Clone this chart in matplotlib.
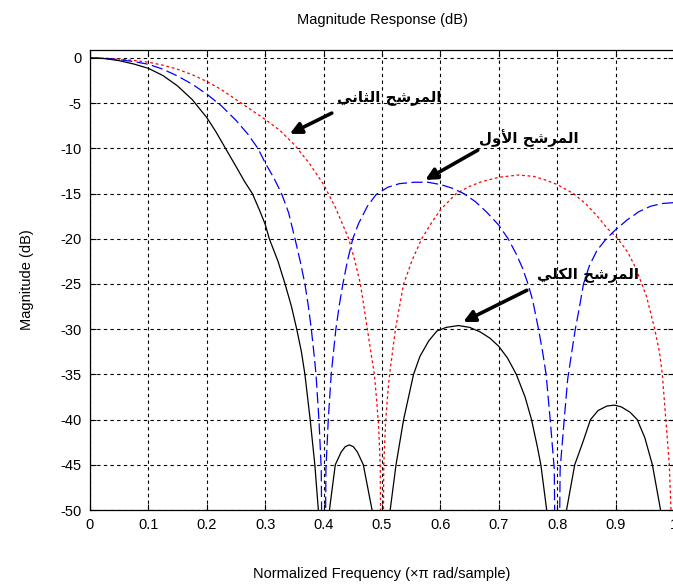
import matplotlib
matplotlib.use("Agg")
import matplotlib.pyplot as plt

# first filter (blue dashed)
f_first = [0, 0.025, 0.05, 0.075, 0.1, 0.125, 0.15, 0.175, 0.2, 0.225, 0.25, 0.27, 0.2875,
           0.3, 0.315, 0.328, 0.34, 0.351, 0.36, 0.368, 0.374, 0.379, 0.384, 0.387, 0.392,
           0.396, 0.4, 0.404, 0.408, 0.413, 0.417, 0.421, 0.427, 0.433, 0.441, 0.45, 0.46,
           0.475, 0.49, 0.51, 0.53, 0.555, 0.579, 0.6, 0.62, 0.64, 0.66, 0.68, 0.7, 0.716,
           0.73, 0.741, 0.75, 0.758, 0.768, 0.775, 0.781, 0.788, 0.795, 0.8, 0.805, 0.812,
           0.818, 0.825, 0.831, 0.838, 0.845, 0.855, 0.868, 0.884, 0.9, 0.92, 0.94, 0.96,
           0.98, 1.0]
db_first = [0, -0.04, -0.18, -0.4, -0.7, -1.25, -2.0, -2.9, -4.0, -5.3, -6.9, -8.4, -10.0,
            -11.6, -13.3, -15.0, -17.1, -20.0, -22.5, -25.0, -27.5, -30.0, -33.0, -35.0, -40.0,
            -45.5, -80.0, -45.5, -40.0, -35.0, -32.5, -30.0, -27.3, -25.0, -22.4, -20.0, -18.3,
            -16.4, -15.1, -14.3, -13.9, -13.75, -13.75, -14.0, -14.4, -15.0, -15.9, -17.1, -18.5, -20.0,
            -21.7, -23.3, -25.0, -26.8, -30.0, -32.5, -35.0, -40.0, -45.5, -80.0, -45.5, -40.0,
            -35.5, -32.5, -30.0, -27.6, -25.0, -23.0, -21.3, -20.0, -19.0, -17.9, -17.0, -16.4,
            -16.1, -16.0]

# second filter (red dotted)
f_second = [0, 0.025, 0.05, 0.075, 0.1, 0.125, 0.15, 0.175, 0.2, 0.225, 0.25, 0.275, 0.3,
            0.325, 0.35, 0.375, 0.4, 0.42, 0.443, 0.453, 0.463, 0.469, 0.475, 0.482, 0.487,
            0.491, 0.494, 0.497, 0.5, 0.503, 0.506, 0.51, 0.513, 0.518, 0.523, 0.53, 0.537,
            0.552, 0.568, 0.585, 0.6, 0.627, 0.65, 0.67, 0.7, 0.733, 0.76, 0.78, 0.8, 0.828,
            0.85, 0.87, 0.885, 0.904, 0.921, 0.935, 0.953, 0.967, 0.975, 0.98, 0.986, 0.992,
            0.996, 1.0]
db_second = [0, -0.03, -0.12, -0.27, -0.47, -0.8, -1.25, -1.85, -2.6, -3.5, -4.6, -5.7, -6.8,
             -8.0, -9.6, -11.6, -14.0, -16.5, -20.0, -22.3, -25.0, -27.5, -30.0, -33.0, -35.0,
             -38.0, -40.5, -45.0, -80.0, -45.0, -40.5, -37.0, -35.0, -32.5, -30.0, -27.5, -25.0,
             -22.3, -20.0, -18.2, -16.8, -15.0, -14.2, -13.7, -13.2, -12.95, -13.1, -13.5, -14.0, -15.0,
             -16.2, -17.6, -18.8, -20.0, -21.5, -23.3, -26.4, -30.0, -32.5, -35.0, -40.0, -45.0,
             -52.0, -80.0]

# overall filter (black solid)
f_total = [0, 0.025, 0.05, 0.075, 0.1, 0.125, 0.15, 0.175, 0.2, 0.215, 0.232, 0.25, 0.265,
           0.278, 0.29, 0.3, 0.307, 0.322, 0.334, 0.345, 0.354, 0.362, 0.368, 0.377, 0.385,
           0.391, 0.4, 0.41, 0.42, 0.43, 0.437, 0.444, 0.451, 0.458, 0.468, 0.483, 0.5,
           0.514, 0.524, 0.537, 0.554, 0.565, 0.58, 0.594, 0.61, 0.631, 0.65, 0.668, 0.685,
           0.7, 0.715, 0.73, 0.745, 0.756, 0.766, 0.772, 0.782, 0.8, 0.816, 0.83, 0.845,
           0.857, 0.87, 0.885, 0.898, 0.91, 0.925, 0.937, 0.95, 0.963, 0.977, 1.0]
db_total = [0, -0.07, -0.3, -0.67, -1.15, -1.95, -3.1, -4.6, -6.6, -8.1, -10.0, -12.0, -13.7,
            -15.0, -16.8, -18.4, -20.0, -22.5, -25.0, -27.5, -30.0, -32.5, -35.0, -40.0, -45.0,
            -50.0, -80.0, -50.0, -45.0, -43.6, -43.0, -42.8, -43.0, -43.6, -45.0, -50.0, -80.0,
            -50.0, -45.0, -40.0, -35.0, -33.0, -31.3, -30.2, -29.8, -29.6, -29.8, -30.3, -31.0,
            -31.9, -33.2, -35.0, -37.5, -40.0, -43.0, -45.0, -50.0, -80.0, -50.0, -45.0, -42.3,
            -40.0, -39.0, -38.5, -38.4, -38.6, -39.2, -40.0, -42.0, -45.0, -50.0, -80.0]

x_ticks = [0, 0.1, 0.2, 0.3, 0.4, 0.5, 0.6, 0.7, 0.8, 0.9, 1]
x_tick_labels = ["0", "0.1", "0.2", "0.3", "0.4", "0.5", "0.6", "0.7", "0.8", "0.9", "1"]
y_ticks = [0, -5, -10, -15, -20, -25, -30, -35, -40, -45, -50]

# Arabic labels, pre-shaped with presentation forms (logical order),
# reversed below because matplotlib lays text out left to right
word_filter = "\uFE8D\uFEDF\uFEE4\uFEAE\uFEB7\uFEA2"   # المرشح
word_second = "\uFE8D\uFEDF\uFE9C\uFE8E\uFEE7\uFEF2"   # الثاني
word_first = "\uFE8D\uFEF7\uFEED\uFEDD"               # الأول
word_total = "\uFE8D\uFEDF\uFEDC\uFEE0\uFEF2"         # الكلي


def visual(*words):
    return " ".join(words)[::-1]


plt.rcParams["font.family"] = ["Liberation Sans", "DejaVu Sans"]
plt.rcParams["axes.unicode_minus"] = False

fig = plt.figure(figsize=(6.73, 5.85), dpi=100)
ax = fig.add_axes([90 / 673, 75 / 585, 584 / 673, 460 / 585])

ax.plot(f_second, db_second, color="#ff0000", lw=0.9, dashes=(2.2, 2.2))
ax.plot(f_first, db_first, color="#0000ff", lw=0.9, dashes=(9, 3.5))
ax.plot(f_total, db_total, color="black", lw=0.9)

ax.set_xlim(0, 1)
ax.set_ylim(-50, 0.88)
ax.set_xticks(x_ticks)
ax.set_xticklabels(x_tick_labels)
ax.set_yticks(y_ticks)
ax.tick_params(direction="in", top=True, right=True, labelsize=10.5, length=4, pad=6)
ax.grid(True, color="black", linestyle=(0, (3, 3)), lw=0.8)
for sp in ax.spines.values():
    sp.set_linewidth(0.9)

ax.set_title("Magnitude Response (dB)", fontsize=10.5, pad=19)
ax.set_xlabel("Normalized Frequency (\u00d7\u03c0 rad/sample)", fontsize=10.5, labelpad=25)
ax.set_ylabel("Magnitude (dB)", fontsize=10.5, labelpad=19)

arrow = dict(arrowstyle="-|>", color="black", lw=2.6, mutation_scale=17, shrinkA=0, shrinkB=0)
ax.annotate("", xy=(0.342, -8.4), xytext=(0.414, -6.1), arrowprops=arrow)
ax.annotate("", xy=(0.574, -13.5), xytext=(0.664, -10.2), arrowprops=arrow)
ax.annotate("", xy=(0.639, -29.2), xytext=(0.748, -25.7), arrowprops=arrow)

arabic = dict(family="DejaVu Sans", fontweight="bold", fontsize=10.8, ha="center", va="center")
ax.text(0.512, -4.4, visual(word_filter, word_second), **arabic)
ax.text(0.752, -8.85, visual(word_filter, word_first), **arabic)
ax.text(0.853, -24.1, visual(word_filter, word_total), **arabic)

fig.savefig("out.png", dpi=100)
